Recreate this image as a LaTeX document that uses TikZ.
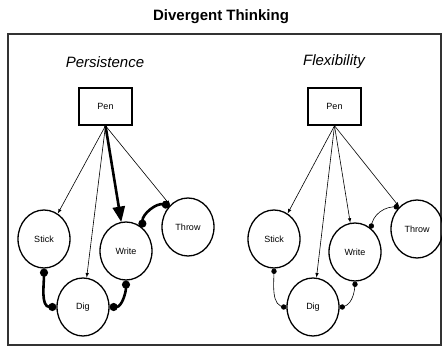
\documentclass[tikz,border=0pt]{standalone}
\usepackage{fontspec}
\setmainfont{Liberation Sans}
\usepackage{tikz}
\usetikzlibrary{shapes.geometric, arrows, arrows.meta}
\tikzstyle{penbox} = [rectangle, minimum width=53pt, minimum height=37pt, align=center, draw=black, line width=1.5pt, font=\fontsize{9}{10}\selectfont]
\tikzstyle{usenode} = [ellipse, minimum width=52pt, minimum height=58pt, align=center, draw=black, line width=1.3pt, font=\fontsize{9}{10}\selectfont]
\tikzstyle{heading} = [font=\fontsize{15}{18}\selectfont\itshape]
\tikzstyle{arrow} = [line width=0.6pt,-latex]
\tikzstyle{bigarrow} = [line width=2.6pt,-triangle 45]
\tikzstyle{link} = [line width=2.6pt,{Circle[length=8pt]}-{Circle[length=8pt]}]
\tikzstyle{thinlink} = [line width=0.6pt,*-*]

\begin{document}
\begin{tikzpicture}[x=1pt,y=1pt]
\useasboundingbox (0,0) rectangle (442,355);
\node (title) at (221,338) {\fontsize{15}{18}\selectfont\bfseries Divergent Thinking};
\draw[line width=1.5pt, black!80] (8,10) rectangle (441,321);

% persistence
\node (persist) [heading] at (105,293) {Persistence};
\node (penL) [penbox] at (105.5,248.5) {Pen};
\node (stickL) [usenode] at (44,116) {Stick};
\node (digL) [usenode] at (83,48) {Dig};
\node (writeL) [usenode] at (126,104) {Write};
\node (throwL) [usenode] at (188,128) {Throw};

\draw[arrow] (penL.south) -- (stickL);
\draw[arrow] (penL.south) -- (digL);
\draw[bigarrow] (penL.south) -- (writeL);
\draw[arrow] (penL.south) -- (throwL);

\draw[link] (stickL.south) to[out=-90,in=180] (digL.west);
\draw[link] (digL.east) to[out=0,in=-90] (writeL.south);
\draw[link] (writeL.55) to[out=90,in=170] (throwL.130);

% flexibility
\node (flex) [heading] at (334,293) {Flexibility};
\node (penR) [penbox] at (334.5,248.5) {Pen};
\node (stickR) [usenode] at (274,116) {Stick};
\node (digR) [usenode] at (313,48) {Dig};
\node (writeR) [usenode] at (355,103) {Write};
\node (throwR) [usenode] at (417,126) {Throw};

\draw[arrow] (penR.south) -- (stickR);
\draw[arrow] (penR.south) -- (digR);
\draw[arrow] (penR.south) -- (writeR);
\draw[arrow] (penR.south) -- (throwR);

\draw[thinlink] (stickR.south) to[out=-90,in=180] (digR.west);
\draw[thinlink] (digR.east) to[out=0,in=-90] (writeR.south);
\draw[thinlink] (writeR.55) to[out=90,in=170] (throwR.130);
\end{tikzpicture}
\end{document}
